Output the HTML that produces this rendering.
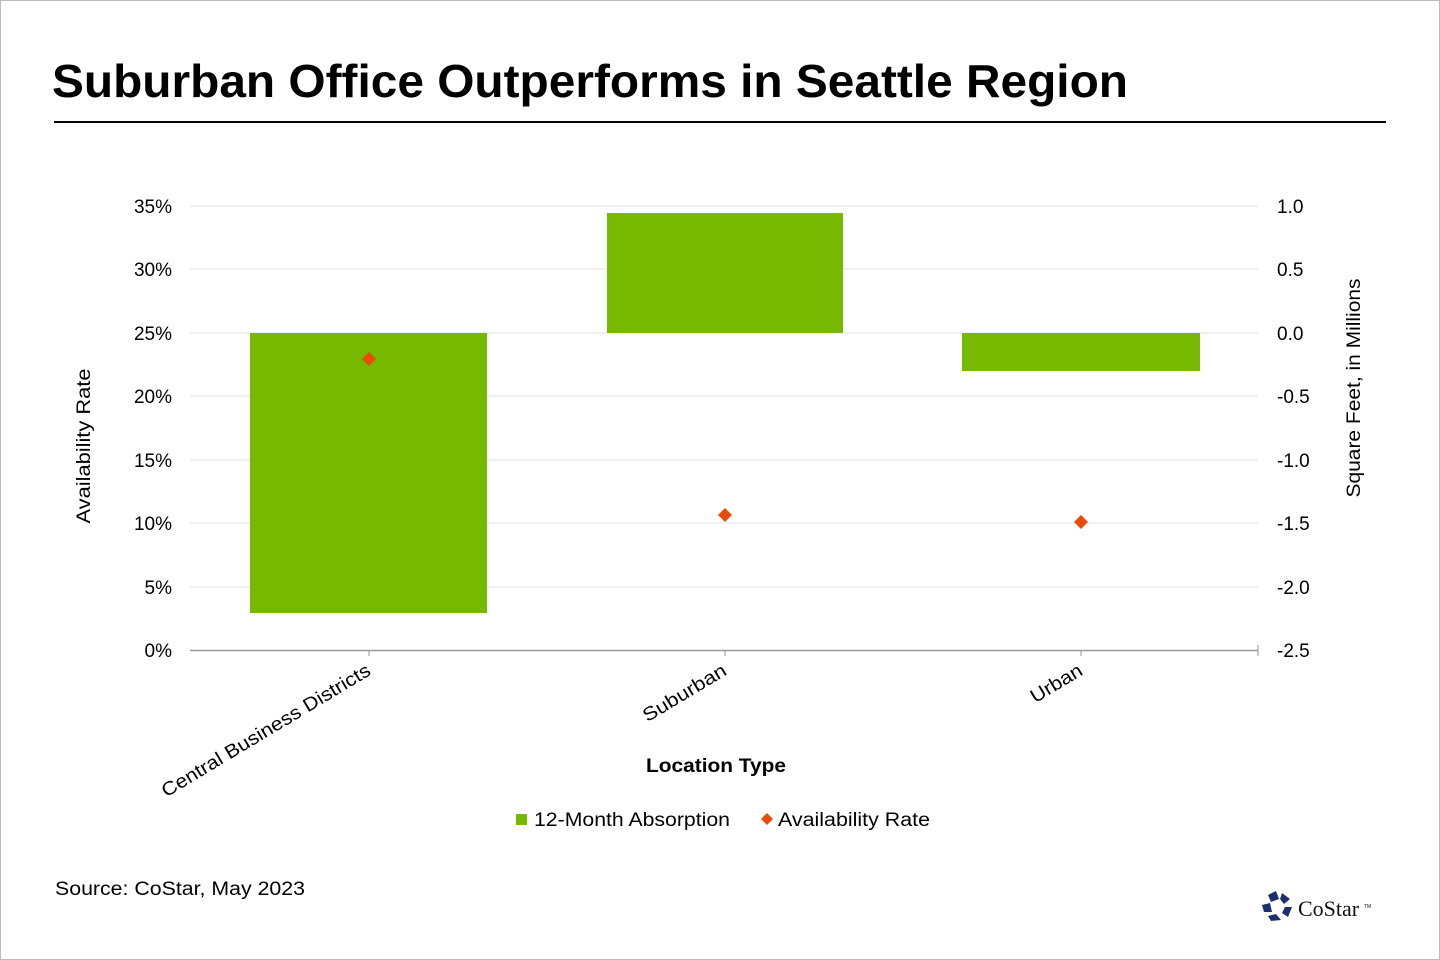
<!DOCTYPE html><html><head><style>body{margin:0}svg{display:block}text{font-family:"Liberation Sans",Arial,sans-serif}</style></head><body>
<svg width="1440" height="960" xmlns="http://www.w3.org/2000/svg">
<rect x="0.5" y="0.5" width="1439" height="959" fill="#fff" stroke="#bbb"/>
<text x="52" y="97" font-size="46" font-weight="bold" fill="#000" textLength="1076" lengthAdjust="spacingAndGlyphs">Suburban Office Outperforms in Seattle Region</text>
<line x1="54" y1="122" x2="1386" y2="122" stroke="#000" stroke-width="2"/>
<g stroke="#e3e3e3" stroke-width="1">
<line x1="190" y1="206" x2="1258" y2="206"/><line x1="190" y1="269" x2="1258" y2="269"/><line x1="190" y1="333" x2="1258" y2="333"/><line x1="190" y1="396" x2="1258" y2="396"/><line x1="190" y1="460" x2="1258" y2="460"/><line x1="190" y1="523" x2="1258" y2="523"/><line x1="190" y1="587" x2="1258" y2="587"/>
</g>
<g fill="#76b900">
<rect x="250" y="333" width="237" height="280"/><rect x="607" y="213" width="236" height="120"/><rect x="962" y="333" width="238" height="38"/>
</g>
<line x1="190" y1="650.5" x2="1258" y2="650.5" stroke="#999" stroke-width="1.5"/>
<g stroke="#999"><line x1="369" y1="650" x2="369" y2="656"/><line x1="725" y1="650" x2="725" y2="656"/><line x1="1081" y1="650" x2="1081" y2="656"/><line x1="1258" y1="645" x2="1258" y2="656"/></g>
<g fill="#e84c0a">
<polygon points="369,352 376,359 369,366 362,359"/><polygon points="725,508 732,515 725,522 718,515"/><polygon points="1081,515 1088,522 1081,529 1074,522"/>
</g>
<g font-size="19" text-anchor="end" fill="#000">
<text x="172" y="213">35%</text><text x="172" y="276">30%</text><text x="172" y="340">25%</text><text x="172" y="403">20%</text><text x="172" y="467">15%</text><text x="172" y="530">10%</text><text x="172" y="594">5%</text><text x="172" y="657">0%</text>
</g>
<g font-size="19" fill="#000">
<text x="1277" y="213">1.0</text><text x="1277" y="276">0.5</text><text x="1277" y="340">0.0</text><text x="1277" y="403">-0.5</text><text x="1277" y="467">-1.0</text><text x="1277" y="530">-1.5</text><text x="1277" y="594">-2.0</text><text x="1277" y="657">-2.5</text>
</g>
<text transform="translate(90,446) rotate(-90)" font-size="19" text-anchor="middle" textLength="155" lengthAdjust="spacingAndGlyphs">Availability  Rate</text>
<text transform="translate(1360,388) rotate(-90)" font-size="19" text-anchor="middle" textLength="219" lengthAdjust="spacingAndGlyphs">Square Feet, in Millions</text>
<g font-size="19" text-anchor="end">
<text transform="translate(372,674) rotate(-31)" textLength="240" lengthAdjust="spacingAndGlyphs">Central Business Districts</text>
<text transform="translate(728,674) rotate(-31)" textLength="94" lengthAdjust="spacingAndGlyphs">Suburban</text>
<text transform="translate(1084,674) rotate(-31)" textLength="57" lengthAdjust="spacingAndGlyphs">Urban</text>
</g>
<text x="646" y="772" font-size="19" font-weight="bold" textLength="140" lengthAdjust="spacingAndGlyphs">Location Type</text>
<rect x="516" y="814" width="11" height="11" fill="#76b900"/>
<text x="534" y="826" font-size="19" textLength="196" lengthAdjust="spacingAndGlyphs">12-Month Absorption</text>
<polygon points="767,813 773,819 767,825 761,819" fill="#e84c0a"/>
<text x="778" y="826" font-size="19" textLength="152" lengthAdjust="spacingAndGlyphs">Availability Rate</text>
<text x="55" y="895" font-size="19" textLength="250" lengthAdjust="spacingAndGlyphs">Source: CoStar, May 2023</text>
<g fill="#1c2f6e">
<polygon points="1268,895 1276,891 1279,899 1271,902"/>
<polygon points="1282,893 1290,899 1284,904 1280,899"/>
<polygon points="1262,905 1270,903 1272,912 1264,912"/>
<polygon points="1285,907 1292,907 1288,917 1282,913"/>
<polygon points="1268,916 1276,914 1281,920 1271,921"/>
</g>
<text x="1298" y="916" font-size="22" fill="#111" style="font-family:'Liberation Serif',serif">CoStar</text>
<text x="1364" y="908" font-size="5" fill="#111">TM</text>
</svg>
</body></html>
